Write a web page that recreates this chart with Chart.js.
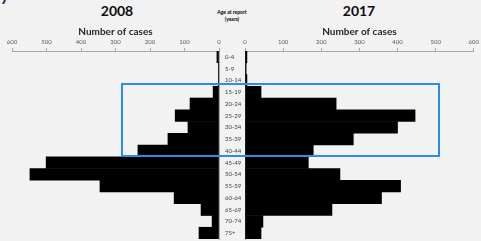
<!DOCTYPE html>
<html>
<head>
<meta charset="utf-8">
<script src="https://cdn.jsdelivr.net/npm/chart.js@4/dist/chart.umd.min.js"></script>
<style>
  html, body { margin: 0; padding: 0; background: #f2f2f2; }
  body { width: 481px; height: 241px; position: relative; overflow: hidden; font-family: Lato, "Open Sans", sans-serif; }
  canvas { position: absolute; top: 0; }
  .yr { position: absolute; top: 2px; font-size: 14px; font-weight: bold; color: #0d0d0d; transform: translateX(-50%); }
  .age { position: absolute; left: 232px; top: 9px; font-size: 5px; font-weight: bold; line-height: 7px; text-align: center; transform: translateX(-50%); color: #000; white-space: nowrap; }
  .box { position: absolute; left: 121px; top: 83px; width: 315px; height: 70px; border: 2px solid #2a8cf0; }
  .corner { position: absolute; left: 0; top: -17px; font-size: 18px; font-weight: bold; color: #1f3864; }
</style>
</head>
<body>
<div class="corner">y</div>
<div class="yr" style="left:117px">2008</div>
<div class="yr" style="left:359px">2017</div>
<div class="age">Age at report<br>(years)</div>
<canvas id="right" width="241" height="241" style="left:240px"></canvas>
<canvas id="left" width="245" height="241" style="left:0"></canvas>
<div class="box"></div>
<script>
const ageGroups = ['0-4', '5-9', '10-14', '15-19', '20-24', '25-29', '30-34', '35-39',
                   '40-44', '45-49', '50-54', '55-59', '60-64', '65-69', '70-74', '75+'];
const cases2008 = [6, 2, 1, 17, 84, 127, 90, 148, 235, 501, 548, 345, 130, 52, 20, 58];
const cases2017 = [5, 3, 5, 42, 239, 446, 400, 284, 179, 166, 249, 408, 358, 228, 47, 42];
const caseMax = 600;
const caseStep = 100;

const axisGray = '#a6a6a6';

function xScale(reverse) {
    return {
        position: 'top',
        reverse: reverse,
        min: 0,
        max: caseMax,
        ticks: { stepSize: caseStep, font: { size: 6, family: 'Lato' }, color: '#595959', padding: 2, maxRotation: 0 },
        grid: { drawOnChartArea: false, drawTicks: true, tickLength: 3, color: axisGray },
        border: { color: axisGray },
        title: { display: true, text: 'Number of cases', font: { size: 10, weight: 'bold', family: 'Lato' }, color: '#262626', padding: { top: 26, bottom: 0 } },
        afterFit: function(scale) { scale.height = 51; }
    };
}

function makeChart(id, data, reverse) {
    let yAxis;
    if (reverse) {
        yAxis = {
            position: 'right',
            ticks: { font: { size: 6, family: 'Lato' }, color: '#404040', padding: 6, autoSkip: false },
            grid: { display: false, drawTicks: false },
            border: { color: axisGray },
            afterFit: function(scale) {
                scale.width = 26;
                // keep the age labels from shrinking the bar area
                scale.paddingTop = 0;
                scale.paddingBottom = 0;
            }
        };
    } else {
        yAxis = {
            position: 'left',
            ticks: { display: false },
            grid: { display: false, drawTicks: false },
            border: { color: axisGray },
            afterFit: function(scale) { scale.width = 5; }
        };
    }
    return new Chart(id, {
        type: 'bar',
        data: {
            labels: ageGroups,
            datasets: [{
                data: data,
                backgroundColor: '#000000',
                borderWidth: 0,
                barPercentage: 1,
                categoryPercentage: 1
            }]
        },
        options: {
            indexAxis: 'y',
            responsive: false,
            animation: false,
            layout: { padding: reverse ? { left: 12, right: 0, top: 0, bottom: 2 } : { left: 0, right: 5, top: 0, bottom: 2 } },
            plugins: { legend: { display: false }, tooltip: { enabled: false } },
            scales: { x: xScale(reverse), y: yAxis }
        }
    });
}

makeChart('left', cases2008, true);
makeChart('right', cases2017, false);
</script>
</body>
</html>
